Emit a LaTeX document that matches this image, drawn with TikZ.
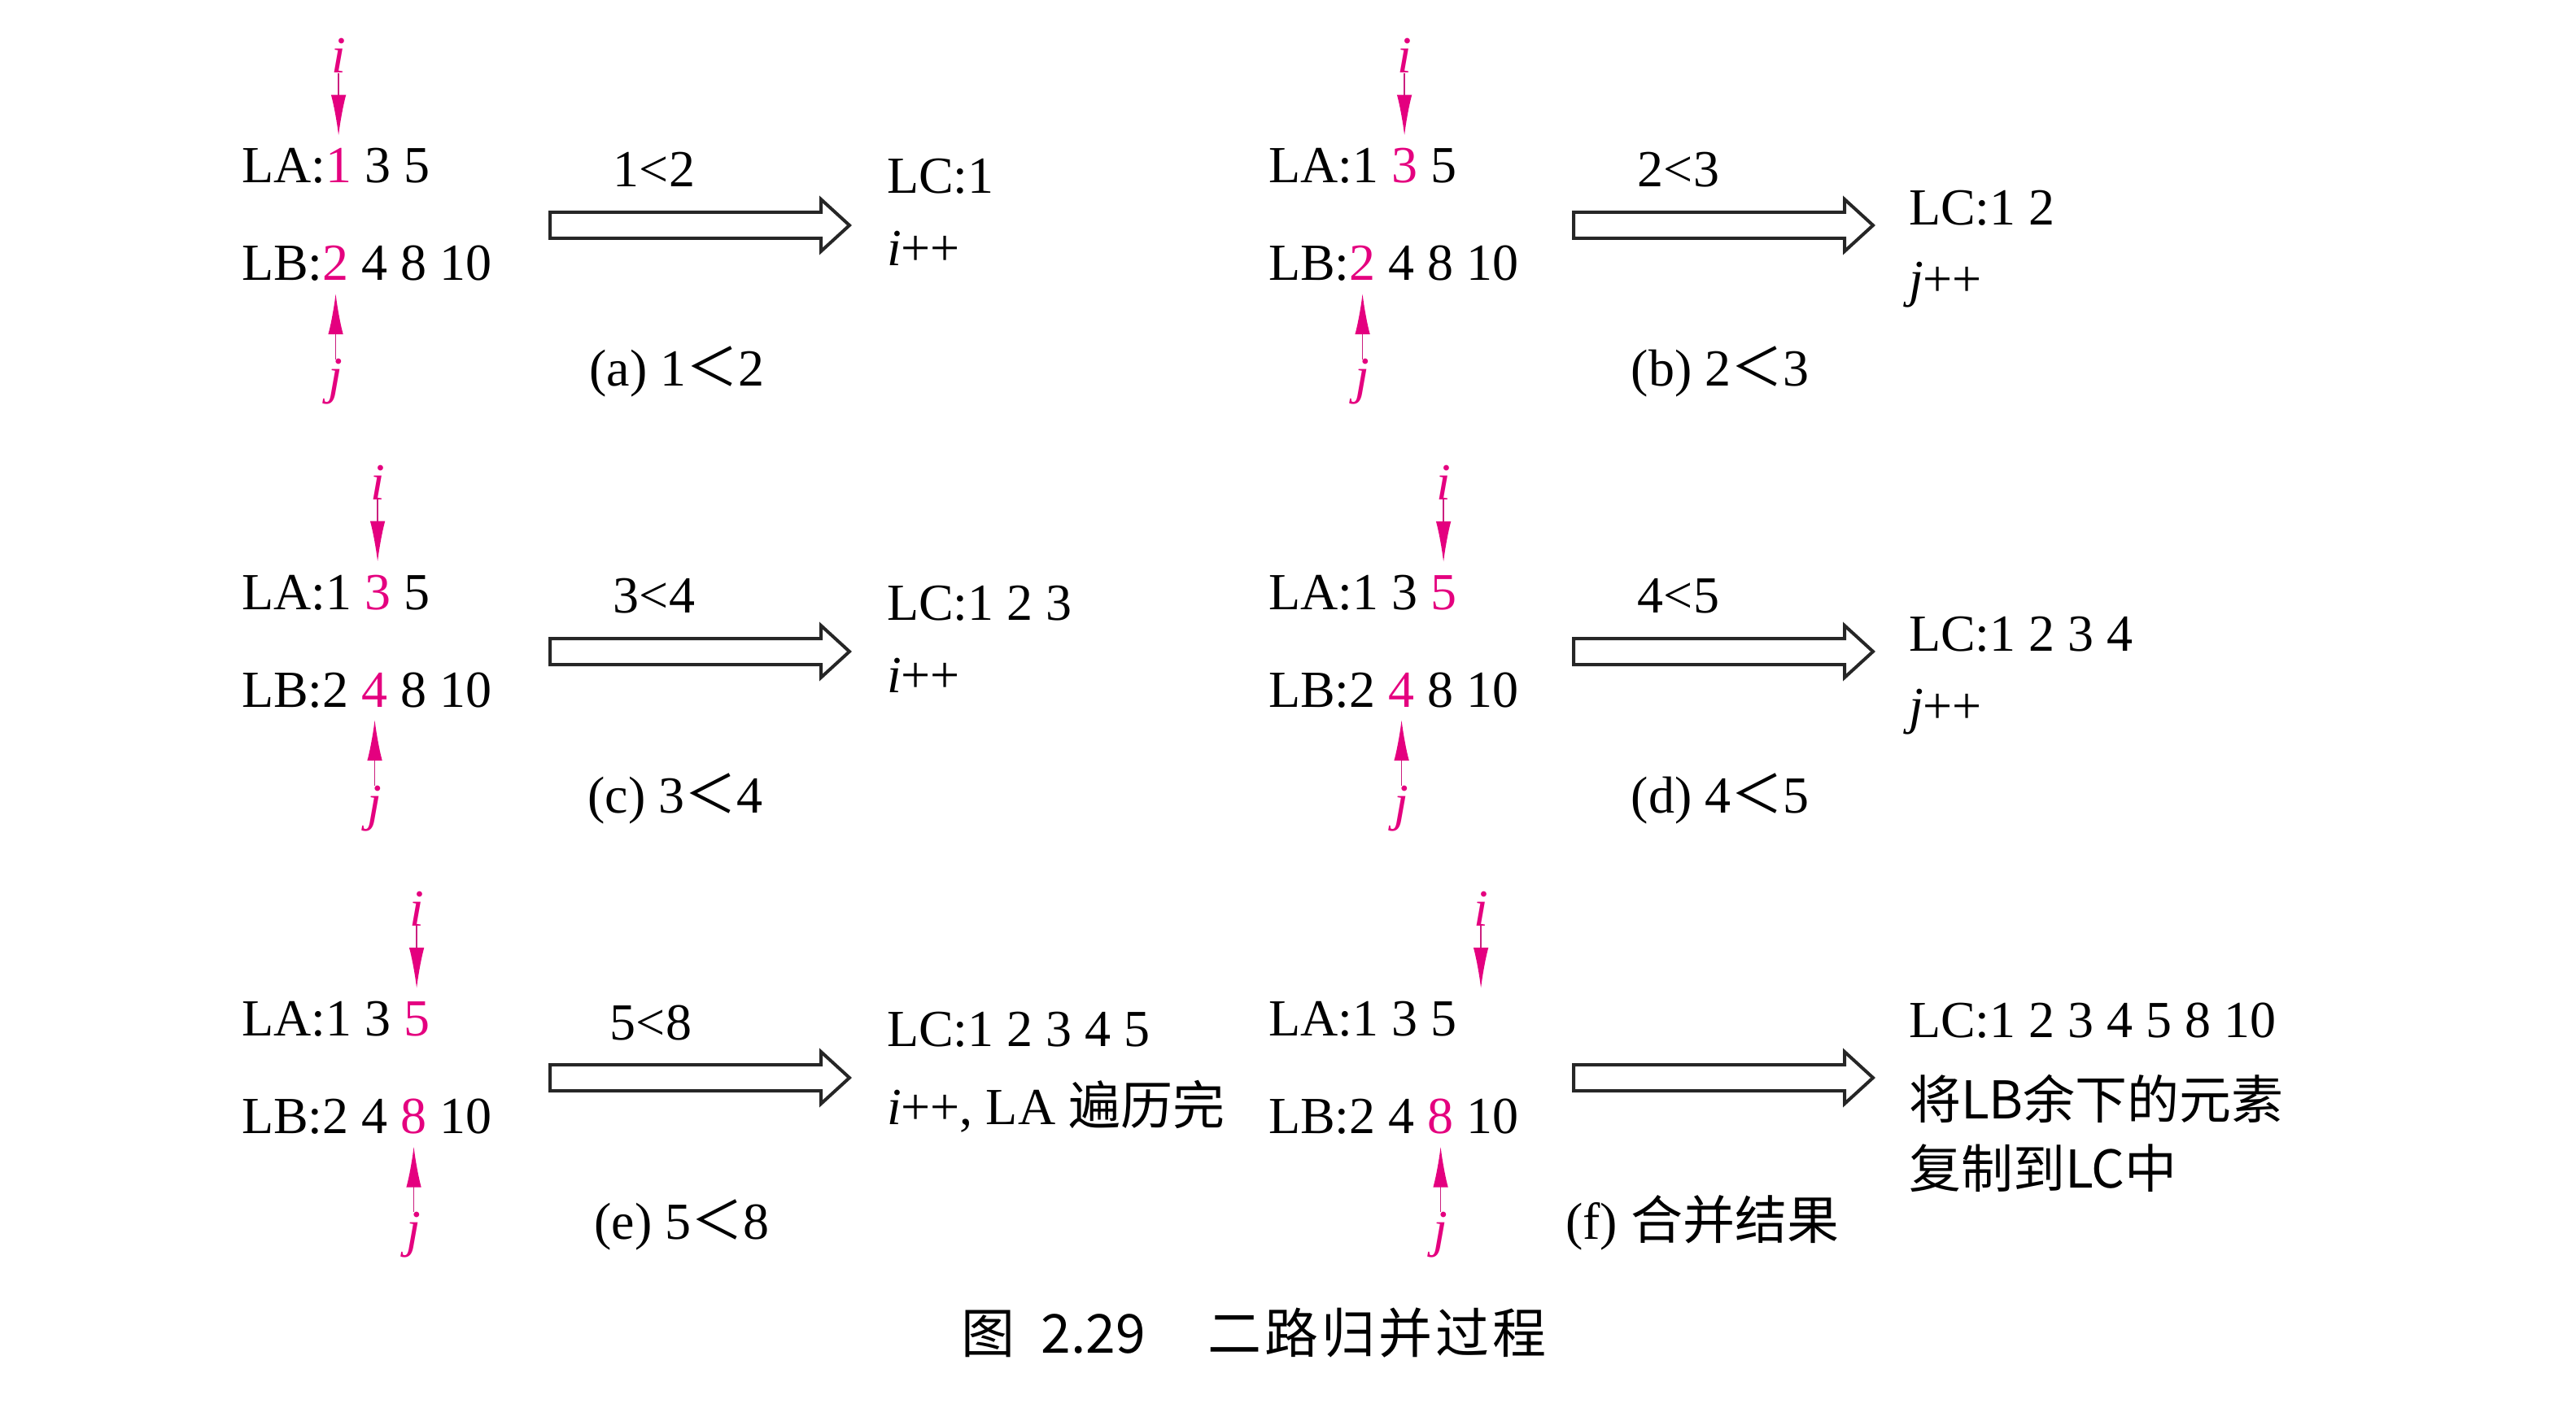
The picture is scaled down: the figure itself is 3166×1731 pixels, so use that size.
\documentclass[tikz,border=0pt]{standalone}
\usepackage{fontspec}
\setmainfont{Liberation Serif}
\newfontfamily\cjk{Noto Sans CJK SC}
\usetikzlibrary{arrows.meta,calc}
\definecolor{pk}{RGB}{228,0,127}
\tikzset{
  txt/.style={inner sep=0pt, outer sep=0pt, font=\fontsize{16}{19}\selectfont},
  ptr/.style={draw=pk!75!gray, line width=0.45pt, -{Latex[length=12.5pt,width=4.6pt,fill=pk,color=pk]}},
  idx/.style={txt, text=pk, anchor=base, font=\fontsize{16}{19}\selectfont\itshape},
  hollow/.style={draw=black!85, line width=1pt, fill=white, line join=miter},
}
\newcommand\lrow[5]{%
  \node[txt, anchor=base west, alias=#1-0] (#1) at (#2) {#3};
  \foreach \v [count=\k] in {#4} {%
    \pgfmathtruncatemacro\km{\k-1}%
    \ifnum\k=#5\relax\def\col{pk}\else\def\col{black}\fi
    \ifnum\k=1\relax\def\gap{0pt}\else\def\gap{4pt}\fi
    \node[txt, anchor=base west, text=\col] (#1-\k) at ([xshift=\gap]#1-\km.base east) {\v};
  }%
}
\newcommand\bigarrow[4]{%
  \coordinate (#1s) at (#2,#4);
  \coordinate (#1e) at (#3,#4);
  \draw[hollow] ($(#1s)+(0,-16)$) -- ($(#1e)+(-35,-16)$) -- ($(#1e)+(-35,-32)$) -- (#1e)
    -- ($(#1e)+(-35,32)$) -- ($(#1e)+(-35,16)$) -- ($(#1s)+(0,16)$) -- cycle;
}
\begin{document}
\begin{tikzpicture}[x=0.25pt, y=-0.25pt]
\useasboundingbox (0,0) rectangle (3166,1731);

% ---------- (a)
\lrow{aA}{297,225}{LA:}{1,3,5}{1}
\lrow{aB}{297,345}{LB:}{2,4,8,10}{1}
\node[idx] (ia) at ([yshift=33.75pt]aA-1.base) {i};
\node[idx] (ja) at ([yshift=-34.75pt]aB-1.base) {j};
\draw[ptr, shorten >=4pt] (ia.south) -- (aA-1.north);
\draw[ptr, shorten >=4pt] (ja.north) -- (aB-1.south);
\node[txt, anchor=base] (cmpa) at (804,230) {1<2};
\bigarrow{arra}{676}{1044}{277}
\node[txt, anchor=base west] (lca) at (1090,238) {LC:1};
\node[txt, anchor=base west] (opa) at (1090,327) {\textit{i}++};
\node[txt, anchor=base] (capa) at (832,475) {(a) 1{\cjk ＜}2};

% ---------- (b)
\lrow{bA}{1559,225}{LA:}{1,3,5}{2}
\lrow{bB}{1559,345}{LB:}{2,4,8,10}{1}
\node[idx] (ib) at ([yshift=33.75pt]bA-2.base) {i};
\node[idx] (jb) at ([yshift=-34.75pt]bB-1.base) {j};
\draw[ptr, shorten >=4pt] (ib.south) -- (bA-2.north);
\draw[ptr, shorten >=4pt] (jb.north) -- (bB-1.south);
\node[txt, anchor=base] (cmpb) at (2063,230) {2<3};
\bigarrow{arrb}{1934}{2302}{277}
\node[txt, anchor=base west] (lcb) at (2346,277) {LC:1 2};
\node[txt, anchor=base west] (opb) at (2346,365) {\textit{j}++};
\node[txt, anchor=base] (capb) at (2114,475) {(b) 2{\cjk ＜}3};

% ---------- (c)
\lrow{cA}{297,749}{LA:}{1,3,5}{2}
\lrow{cB}{297,869}{LB:}{2,4,8,10}{2}
\node[idx] (ic) at ([yshift=33.75pt]cA-2.base) {i};
\node[idx] (jc) at ([yshift=-34.75pt]cB-2.base) {j};
\draw[ptr, shorten >=4pt] (ic.south) -- (cA-2.north);
\draw[ptr, shorten >=4pt] (jc.north) -- (cB-2.south);
\node[txt, anchor=base] (cmpc) at (804,754) {3<4};
\bigarrow{arrc}{676}{1044}{801}
\node[txt, anchor=base west] (lcc) at (1090,762) {LC:1 2 3};
\node[txt, anchor=base west] (opc) at (1090,851) {\textit{i}++};
\node[txt, anchor=base] (capc) at (830,999) {(c) 3{\cjk ＜}4};

% ---------- (d)
\lrow{dA}{1559,749}{LA:}{1,3,5}{3}
\lrow{dB}{1559,869}{LB:}{2,4,8,10}{2}
\node[idx] (id) at ([yshift=33.75pt]dA-3.base) {i};
\node[idx] (jd) at ([yshift=-34.75pt]dB-2.base) {j};
\draw[ptr, shorten >=4pt] (id.south) -- (dA-3.north);
\draw[ptr, shorten >=4pt] (jd.north) -- (dB-2.south);
\node[txt, anchor=base] (cmpd) at (2063,754) {4<5};
\bigarrow{arrd}{1934}{2302}{801}
\node[txt, anchor=base west] (lcd) at (2346,801) {LC:1 2 3 4};
\node[txt, anchor=base west] (opd) at (2346,889) {\textit{j}++};
\node[txt, anchor=base] (capd) at (2114,999) {(d) 4{\cjk ＜}5};

% ---------- (e)
\lrow{eA}{297,1273}{LA:}{1,3,5}{3}
\lrow{eB}{297,1393}{LB:}{2,4,8,10}{3}
\node[idx] (ie) at ([yshift=33.75pt]eA-3.base) {i};
\node[idx] (je) at ([yshift=-34.75pt]eB-3.base) {j};
\draw[ptr, shorten >=4pt] (ie.south) -- (eA-3.north);
\draw[ptr, shorten >=4pt] (je.north) -- (eB-3.south);
\node[txt, anchor=base] (cmpe) at (800,1278) {5<8};
\bigarrow{arre}{676}{1044}{1325}
\node[txt, anchor=base west] (lce) at (1090,1286) {LC:1 2 3 4 5};
\node[txt, anchor=base west] (ope) at (1090,1382) {\textit{i}++, LA {\cjk 遍历完}};
\node[txt, anchor=base] (cape) at (838,1523) {(e) 5{\cjk ＜}8};

% ---------- (f)
\lrow{fA}{1559,1273}{LA:}{1,3,5}{0}
\lrow{fB}{1559,1393}{LB:}{2,4,8,10}{3}
\coordinate (fend) at ([xshift=11.5pt]fA-3.north);
\node[idx] (if) at ([xshift=11.5pt, yshift=33.75pt]fA-3.base) {i};
\node[idx] (jf) at ([yshift=-34.75pt]fB-3.base) {j};
\draw[ptr, shorten >=4pt] (if.south) -- (fend);
\draw[ptr, shorten >=4pt] (jf.north) -- (fB-3.south);
\bigarrow{arrf}{1934}{2302}{1325}
\node[txt, anchor=base west] (lcf) at (2346,1275) {LC:1 2 3 4 5 8 10};
\node[txt, anchor=base west] (opf1) at (2346,1375) {\cjk 将LB余下的元素};
\node[txt, anchor=base west] (opf2) at (2346,1460) {\cjk 复制到LC中};
\node[txt, anchor=base] (capf) at (2092,1523) {(f) {\cjk 合并结果}};

% ---------- figure caption
\node[txt, anchor=base, font=\fontsize{16.5}{20}\selectfont\cjk] (fig) at (1541,1663)
  {图\hspace{8pt}2.29\hspace{19pt}二\hspace{1pt}路\hspace{1pt}归\hspace{1pt}并\hspace{1pt}过\hspace{1pt}程};
\end{tikzpicture}
\end{document}
